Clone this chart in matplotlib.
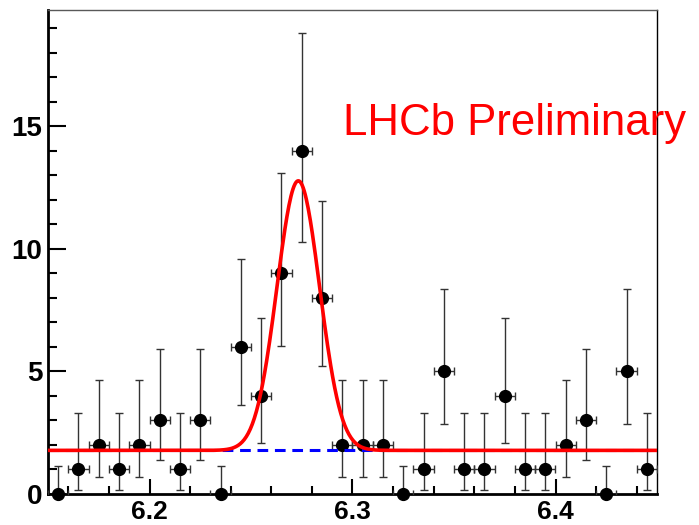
import numpy as np
import matplotlib.pyplot as plt
from matplotlib.ticker import MultipleLocator

plt.rcParams['font.family'] = ['Liberation Sans', 'DejaVu Sans']

# bin centres (GeV) and event counts
mass = [6.155, 6.165, 6.175, 6.185, 6.195, 6.205, 6.215, 6.225, 6.235, 6.245,
        6.255, 6.265, 6.275, 6.285, 6.295, 6.305, 6.315, 6.325, 6.335, 6.345,
        6.355, 6.365, 6.375, 6.385, 6.395, 6.405, 6.415, 6.425, 6.435, 6.445]
counts = [0, 1, 2, 1, 2, 3, 1, 3, 0, 6,
          4, 9, 14, 8, 2, 2, 2, 0, 1, 5,
          1, 1, 4, 1, 1, 2, 3, 0, 5, 1]

# poisson interval edges per bin
y_lo = [0, 0.173, 0.708, 0.173, 0.708, 1.367, 0.173, 1.367, 0, 3.620,
        2.086, 6.057, 10.30, 5.232, 0.708, 0.708, 0.708, 0, 0.173, 2.840,
        0.173, 0.173, 2.086, 0.173, 0.173, 0.708, 1.367, 0, 2.840, 0.173]
y_hi = [1.148, 3.300, 4.638, 3.300, 4.638, 5.918, 3.300, 5.918, 1.148, 9.584,
        7.163, 13.11, 18.83, 11.95, 4.638, 4.638, 4.638, 1.148, 3.300, 8.382,
        3.300, 3.300, 7.163, 3.300, 3.300, 4.638, 5.918, 1.148, 8.382, 3.300]
half_bin = 0.005

# fit result: gaussian signal on flat background
bkg = 1.78
sig_amp = 11.0
sig_mean = 6.2733
sig_width = 0.0105

fig = plt.figure(figsize=(6.99, 5.25), dpi=100)
ax = fig.add_axes([48/699, 31/525, 609/699, 484/525])

x = np.array(mass)
y = np.array(counts)
yerr = [y - np.array(y_lo), np.array(y_hi) - y]

ax.errorbar(x, y, yerr=yerr, xerr=half_bin, fmt='none', ecolor='0.2',
            elinewidth=1, capsize=3, capthick=1, zorder=3)
ax.plot(x, y, 'o', color='black', markersize=8.5, clip_on=False, zorder=4)

xf = np.linspace(6.15, 6.45, 600)
ax.plot([6.15, 6.45], [bkg, bkg], color='#0000ff', lw=2.2, ls=(0, (3.5, 2.2)), zorder=5)
ax.plot(xf, bkg + sig_amp*np.exp(-0.5*((xf - sig_mean)/sig_width)**2),
        color='#ff0000', lw=2.6, zorder=6)

ax.text(6.2953, 14.65, 'LHCb Preliminary', color='#ff0000', fontsize=31.5,
        ha='left', va='baseline', clip_on=False, zorder=7)

ax.set_xlim(6.15, 6.45)
ax.set_ylim(0, 19.75)
ax.xaxis.set_major_locator(MultipleLocator(0.1))
ax.xaxis.set_minor_locator(MultipleLocator(0.02))
ax.yaxis.set_major_locator(MultipleLocator(5))
ax.yaxis.set_minor_locator(MultipleLocator(1))
ax.set_xticks([6.2, 6.3, 6.4])
ax.set_xticklabels(['6.2', '6.3', '6.4'])

ax.tick_params(which='both', direction='in', top=False, right=False, width=1.5)
ax.tick_params(axis='y', which='major', length=13, pad=4)
ax.tick_params(axis='y', which='minor', length=6.5)
ax.tick_params(axis='x', which='major', length=11, pad=4)
ax.tick_params(axis='x', which='minor', length=6)
for lab in ax.get_yticklabels():
    lab.set_fontsize(20)
    lab.set_fontweight('bold')
for lab in ax.get_xticklabels():
    lab.set_fontsize(19)
    lab.set_fontweight('bold')

ax.spines['left'].set_linewidth(2)
ax.spines['bottom'].set_linewidth(2)
ax.spines['top'].set_linewidth(1)
ax.spines['top'].set_color('0.35')
ax.spines['right'].set_linewidth(1)

fig.savefig('out.png', dpi=100)
